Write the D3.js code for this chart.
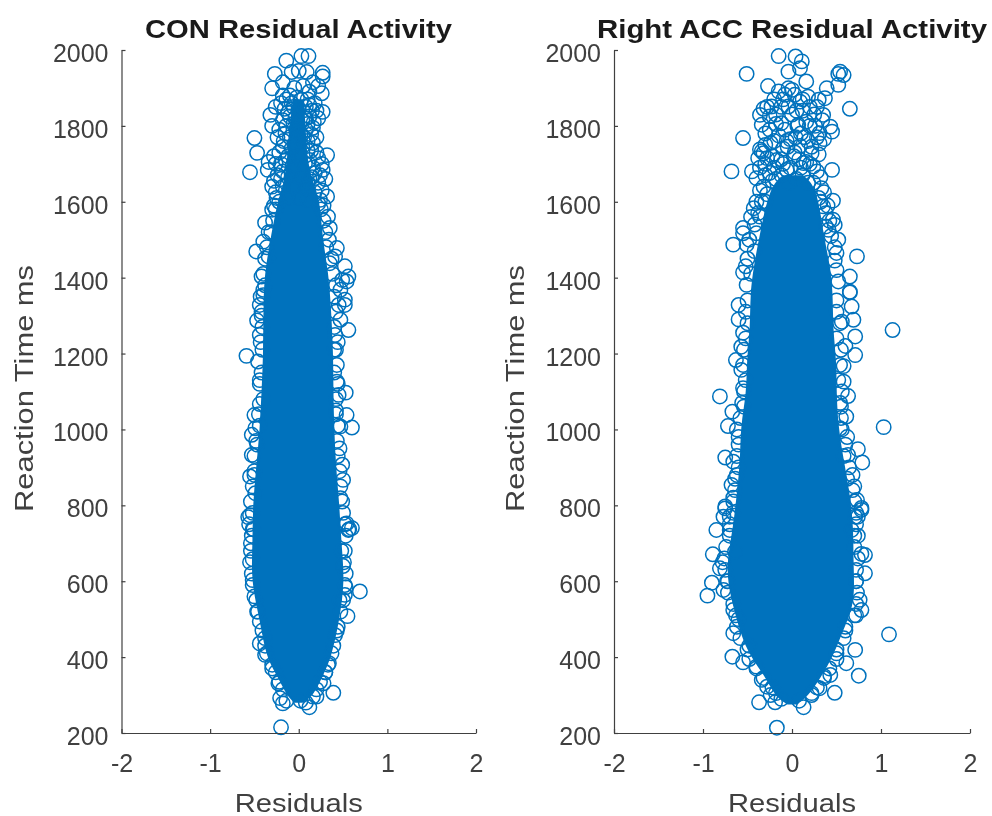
<!DOCTYPE html>
<html>
<head>
<meta charset="utf-8">
<script src="https://cdn.jsdelivr.net/npm/d3@7"></script>
<style>
  html, body { margin: 0; padding: 0; background: #fff; }
  text { font-family: "Liberation Sans", Arial, sans-serif; fill: #404040; }
  svg { filter: blur(0.45px); }
</style>
</head>
<body>
<div id="chart"></div>
<script>
// axis stuff, same for both panels
var xTicks = [-2, -1, 0, 1, 2];
var yTicks = [200, 400, 600, 800, 1000, 1200, 1400, 1600, 1800, 2000];
var xTickLabels = ['-2', '-1', '0', '1', '2'];
var yTickLabels = ['200', '400', '600', '800', '1000', '1200', '1400', '1600', '1800', '2000'];
var panelTitles = ['CON Residual Activity', 'Right ACC Residual Activity'];

// the middle of each cloud is solid blue, single circles can't be read there.
// these are the edges of the solid part: [reaction time, left residual, right residual]
var conCore = [
  [1870,-.06,.06],[1780,-.12,.08],[1700,-.13,.10],[1640,-.18,.18],[1600,-.24,.24],[1500,-.32,.27],
  [1420,-.38,.33],[1340,-.40,.36],[1200,-.40,.39],[1100,-.42,.39],[1000,-.44,.40],[900,-.48,.42],
  [800,-.52,.46],[700,-.52,.48],[600,-.54,.52],[500,-.44,.46],[400,-.37,.37],[350,-.24,.27],
  [300,-.14,.17],[280,-.05,.05]
];
var accCore = [
  [1670,-.10,.12],[1640,-.25,.28],[1517,-.36,.35],[1430,-.43,.43],[1360,-.47,.46],
  [1262,-.47,.46],[1183,-.51,.50],[1095,-.51,.50],[1008,-.58,.52],[920,-.58,.58],[832,-.62,.65],
  [744,-.66,.69],[656,-.73,.69],[594,-.72,.70],[533,-.66,.69],[463,-.58,.56],[401,-.47,.46],
  [349,-.30,.33],[296,-.19,.18],[275,-.05,.05]
];

// circles that can be made out one by one: [residual, reaction time]
var conPoints = [
  [-.14,1972],[.03,1984],[.11,1984],[.27,1940],[.27,1930],[-.27,1937],[-.30,1899],[0,1945],[-.08,1942],[.09,1942],
  [.26,1886],[-.32,1829],[.27,1837],[-.50,1768],[-.47,1729],[-.55,1678],[-.35,1684],[.32,1723],[.27,1684],[-.30,1800],
  [.22,1905],[-.18,1915],[-.05,1900],[.05,1905],[.12,1890],[-.10,1880],[-.02,1875],[.03,1870],[.18,1860],[-.20,1860],
  [.08,1850],[-.06,1850],[0,1845],[-.12,1835],[.22,1820],[.12,1825],[-.04,1820],[.04,1815],[-.22,1790],[-.14,1800],
  [.16,1795],[.08,1790],[-.03,1790],[.02,1780],[-.10,1770],[.20,1770],[.10,1760],[-.18,1745],[-.05,1750],[.04,1745],
  [.14,1735],[-.28,1720],[-.12,1720],[0,1720],[.22,1715],[-.34,1705],[-.20,1700],[-.07,1695],[.07,1700],[.16,1690],
  [.30,1660],[-.24,1670],[-.12,1665],[.02,1665],[.12,1660],[.22,1650],[-.30,1640],[-.18,1640],[-.05,1640],[.08,1635],
  [.18,1625],[-.25,1610],[-.12,1610],[0,1610],[.10,1605],[.24,1605],[-.18,1880],[.16,1915],[.20,1840],[-.26,1850],
  [-.38,1545],[-.30,1579],[-.48,1469],[-.40,1495],[-.34,1456],[.32,1614],[.33,1561],[.35,1531],[.43,1478],[.41,1456],
  [.35,1438],[.56,1403],[.52,1430],[.49,1394],[-.42,1403],[-.40,1368],[.47,1368],[.52,1342],[.34,1500],[-.34,1520],
  [-.44,1328],[.52,1328],[.45,1328],[-.47,1287],[.47,1289],[.56,1262],[-.44,1249],[.41,1249],[-.59,1194],[-.46,1179],
  [.43,1170],[.43,1126],[.53,1097],[.45,1091],[-.44,1067],[-.50,1038],[.54,1038],[-.53,986],[-.49,1003],[.60,1005],
  [.47,1008],[-.53,933],[.49,907],[-.55,876],[.50,867],[-.50,880],[-.49,832],[.47,819],[-.57,769],[-.51,737],
  [.60,740],[.56,735],[.54,1390],[-.40,1354],[-.42,1300],[.42,1210],[-.44,1130],[.42,1050],[-.47,960],[.46,950],
  [-.55,774],[-.52,737],[.57,737],[.54,752],[-.52,658],[-.52,603],[.69,573],[.53,584],[.52,564],[.55,508],
  [-.44,494],[-.44,436],[-.38,406],[.41,458],[.34,384],[.39,306],[.28,331],[.16,296],[.12,268],[-.18,278],
  [-.21,292],[-.20,215],[-.23,331],[.20,296],[.46,550],[-.50,560],[.48,680],[-.54,700],[.50,640],[-.47,520],
  [.44,480],[-.38,450],[-.30,370],[.30,360],[-.14,285],[.08,280],[.02,285]
];
// more rings packed into the top of the cloud and along the rough edge of the solid part
var conCrowd = [
  [-.14,1870],[.10,1870],[-.08,1860],[.12,1855],[-.16,1845],[.15,1840],[-.10,1825],[.08,1820],[-.18,1815],[.17,1810],
  [-.06,1805],[.10,1805],[-.15,1780],[.14,1778],[-.24,1770],[.06,1770],[-.17,1760],[.16,1755],[-.08,1740],[.10,1735],
  [-.22,1730],[.20,1730],[-.15,1710],[.12,1710],[-.26,1700],[.26,1700],[-.18,1680],[.18,1675],[-.28,1655],[.24,1670],
  [-.20,1660],[.10,1650],[-.26,1625],[.26,1630],[-.22,1600],[.22,1595],[.28,1590],[-.28,1590],[.15,1665],[-.08,1680],
  [-.26,1580],[.25,1580],[-.29,1550],[.28,1550],[-.31,1520],[.30,1520],[-.36,1480],[.31,1480],[-.38,1450],[.37,1450],
  [-.40,1410],[.38,1410],[-.38,1380],[.42,1380],[-.43,1350],[.40,1350],[-.42,1310],[.42,1310],[-.41,1270],[.40,1270],
  [-.43,1230],[.44,1230],[-.41,1210],[.40,1210],[-.42,1150],[.40,1150],[-.44,1120],[.44,1120],[-.40,1080],[.42,1080],
  [-.45,1040],[.42,1040],[-.44,1010],[.44,1010],[-.48,970],[.43,970],[-.50,930],[.44,930],[-.50,890],[.46,890],
  [-.52,850],[.47,850],[-.54,810],[.49,810],[-.52,780],[.50,780],[-.56,750],[.52,750],[-.53,720],[.53,720],
  [-.54,680],[.52,680],[-.55,650],[.51,650],[-.53,620],[.53,620],[-.52,590],[.52,590],[-.48,550],[.50,550],
  [-.46,520],[.47,520],[-.41,470],[.43,470],[-.38,430],[.39,430],[-.36,410],[.37,410],[-.30,380],[.33,380],
  [-.26,360],[.30,360],[-.22,335],[.24,335],[-.18,315],[.20,315]
];
var accPoints = [
  [-.15,1984],[.04,1983],[.11,1970],[-.51,1937],[.52,1937],[.58,1934],[.54,1943],[-.04,1943],[.09,1952],[-.27,1905],
  [.16,1917],[.52,1908],[.39,1899],[.65,1845],[-.15,1891],[-.04,1899],[0,1895],[-.08,1882],[.03,1882],[.18,1877],
  [.30,1869],[.37,1873],[-.23,1851],[-.04,1851],[.09,1864],[.20,1850],[-.36,1829],[-.34,1803],[.35,1829],[.43,1798],
  [.45,1785],[.31,1781],[-.25,1790],[-.25,1825],[-.12,1807],[.07,1803],[.16,1811],[-.55,1768],[-.34,1733],[-.32,1728],
  [-.36,1738],[.31,1754],[-.02,1765],[.09,1747],[.22,1728],[-.68,1680],[.45,1684],[-.45,1680],[-.40,1662],[-.17,1710],
  [.13,1702],[.24,1693],[-.06,1684],[-.25,1676],[.33,1636],[.46,1603],[-.43,1583],[.46,1553],[.48,1539],[-.55,1531],
  [-.55,1517],[.52,1500],[-.66,1487],[.73,1456],[.50,1465],[-.55,1414],[.65,1403],[.65,1361],[-.51,1381],[.50,1420],
  [-.36,1561],[-.51,1487],[-.40,1517],[.35,1588],[.41,1526],[-.30,1750],[-.20,1760],[-.10,1740],[.02,1720],[.18,1760],
  [.26,1800],[-.30,1700],[-.18,1660],[.05,1660],[.18,1650],[-.32,1640],[.30,1610],[-.34,1600],[.38,1570],[-.42,1540],
  [-.28,1850],[-.18,1830],[.12,1840],[.25,1830],[-.10,1870],[.28,1770],[-.08,1790],[.10,1780],[-.22,1720],[.20,1700],
  [-.60,1328],[-.55,1255],[-.57,1218],[-.63,1183],[-.57,1157],[-.55,1109],[-.81,1087],[-.67,1047],[-.72,1009],[-.75,926],
  [-.66,915],[-.68,854],[-.75,797],[-.70,770],[-.85,735],[-.60,1290],[-.54,1060],[-.60,980],[-.62,880],[-.66,820],
  [.65,1363],[.67,1324],[.69,1289],[.71,1245],[.56,1284],[1.13,1262],[.71,1196],[.58,1167],[.58,1126],[.63,1088],
  [.61,1034],[1.03,1006],[.54,1003],[.74,948],[.79,913],[.63,933],[.73,814],[.78,793],[.71,770],[.67,735],
  [.60,1220],[.55,1060],[.62,980],[.68,880],[.70,850],
  [-.89,671],[-.81,634],[-.90,596],[-.95,562],[-.77,577],[-.78,650],[-.64,678],[.82,669],[.82,621],[.78,672],
  [.78,788],[.74,770],[-.66,524],[-.66,463],[-.67,401],[-.55,386],[1.09,460],[.71,419],[.61,384],[.75,351],
  [.48,306],[-.37,281],[-.19,281],[.13,268],[-.17,214],[.31,318],[-.28,322],[.78,524],[.76,551],[.72,510],
  [.43,353],[-.40,375],[-.75,792],[-.77,770],[-.70,735],[-.72,600],[.72,600],[.70,720],[-.60,500],[.60,470],
  [-.48,430],[.50,410],[-.34,340],[.36,350],[-.12,290],[.08,285],[-.24,300],[.22,300]
];
var accCrowd = [
  [-.20,1870],[.12,1870],[-.12,1850],[.28,1850],[-.32,1845],[.05,1840],[.34,1815],[-.18,1805],[.20,1800],[-.30,1780],
  [-.15,1775],[.04,1770],[.14,1770],[.36,1765],[-.24,1755],[-.05,1745],[.22,1745],[.30,1725],[-.38,1715],[-.28,1715],
  [-.12,1712],[.08,1712],[.16,1705],[-.36,1690],[-.20,1690],[-.02,1690],[.28,1680],[-.30,1670],[-.12,1670],[.12,1670],
  [.32,1665],[-.22,1655],[-.04,1650],[.24,1650],[-.36,1630],[-.28,1620],[.36,1625],[.32,1600],[-.40,1600],[.40,1590],
  [-.30,1600],[-.46,1560],[.42,1550],[-.38,1570],[.38,1535],[-.48,1500],[.44,1510],[-.42,1470],[.48,1480],[-.50,1450],
  [.48,1445],[-.52,1430],[-.46,1410],[.52,1390],[0,1830],[-.06,1760],[.06,1800],[.03,1730],[-.10,1700],[.10,1690],
  [-.50,1340],[.50,1340],[-.52,1310],[.50,1310],[-.50,1280],[.54,1280],[-.52,1240],[.50,1240],[-.54,1210],[.55,1210],
  [-.55,1170],[.54,1170],[-.52,1130],[.52,1130],[-.54,1100],[.56,1100],[-.56,1070],[.54,1070],[-.58,1030],[.55,1030],
  [-.62,1000],[.56,1000],[-.60,960],[.60,960],[-.62,930],[.58,930],[-.60,900],[.64,900],[-.64,870],[.62,870],
  [-.64,840],[.68,840],[-.66,810],[.70,810],[-.66,780],[.72,780],[-.70,750],[.72,750],[-.70,720],[.74,720],
  [-.74,690],[.70,690],[-.76,660],[.74,660],[-.75,630],[.72,630],[-.73,600],[.72,600],[-.72,570],[.73,570],
  [-.66,540],[.72,540],[-.63,510],[.70,510],[-.62,480],[.60,480],[-.58,450],[.58,450],[-.50,420],[.50,420],
  [-.48,395],[.50,395],[-.40,370],[.42,370],[-.32,345],[.36,345],[-.22,320],[.28,320],[-.18,305],[.22,305]
];

var panelCores = [conCore, accCore];
var panelPoints = [conCrowd.concat(conPoints), accCrowd.concat(accPoints)];

var blue = '#0072bd';
var axisColor = '#404040';
var plotTop = 50, plotBottom = 733;
var panelLeft = [121.5, 614], panelRight = [476, 970];
// reference text is a bit wider than Liberation, so squeeze it to the measured widths
var titleCenter = [298.5, 792], titleWidth = [307, 390];
var yLabelX = [33, 524];

var svg = d3.select('#chart').append('svg').attr('width', 992).attr('height', 816);

function drawPanel(i) {
    var x = d3.scaleLinear().domain([-2, 2]).range([panelLeft[i], panelRight[i]]);
    var y = d3.scaleLinear().domain([200, 2000]).range([plotBottom, plotTop]);

    var core = d3.area()
        .y(function (d) { return y(d[0]); })
        .x0(function (d) { return x(d[1]); })
        .x1(function (d) { return x(d[2]); })
        .curve(d3.curveBasis);

    svg.append('path').datum(panelCores[i]).attr('d', core).attr('fill', blue);

    svg.append('g').selectAll('circle').data(panelPoints[i]).enter().append('circle')
        .attr('cx', function (d) { return x(d[0]); })
        .attr('cy', function (d) { return y(d[1]); })
        .attr('r', 7.2)
        .attr('fill', 'none')
        .attr('stroke', blue)
        .attr('stroke-width', 1.5);

    // ticks point inward and there is no box
    var xAxis = d3.axisBottom(x).tickValues(xTicks).tickSizeInner(-4).tickSizeOuter(0).tickPadding(21)
        .tickFormat(function (d, k) { return xTickLabels[k]; });
    var yAxis = d3.axisLeft(y).tickValues(yTicks).tickSizeInner(-4).tickSizeOuter(0).tickPadding(13)
        .tickFormat(function (d, k) { return yTickLabels[k]; });

    var gx = svg.append('g').attr('transform', 'translate(0,' + plotBottom + ')').call(xAxis);
    var gy = svg.append('g').attr('transform', 'translate(' + panelLeft[i] + ',0)').call(yAxis);
    [gx, gy].forEach(function (g) {
        g.selectAll('path, line').attr('stroke', axisColor).attr('stroke-width', 1.2);
        g.selectAll('text').attr('fill', axisColor).style('font-size', '25px')
            .style('font-family', '"Liberation Sans", Arial, sans-serif');
    });
    gy.selectAll('text').attr('dy', '0.46em');

    svg.append('text')
        .attr('x', titleCenter[i]).attr('y', 38)
        .attr('text-anchor', 'middle')
        .attr('textLength', titleWidth[i]).attr('lengthAdjust', 'spacingAndGlyphs')
        .style('font-size', '26px').style('font-weight', 'bold').style('fill', '#1a1a1a')
        .text(panelTitles[i]);

    svg.append('text')
        .attr('x', (panelLeft[i] + panelRight[i]) / 2).attr('y', 812)
        .attr('text-anchor', 'middle')
        .attr('textLength', 128).attr('lengthAdjust', 'spacingAndGlyphs')
        .style('font-size', '25px')
        .text('Residuals');

    svg.append('text')
        .attr('transform', 'translate(' + yLabelX[i] + ',' + ((plotTop + plotBottom) / 2 - 3) + ') rotate(-90)')
        .attr('text-anchor', 'middle')
        .attr('textLength', 247).attr('lengthAdjust', 'spacingAndGlyphs')
        .style('font-size', '25px')
        .text('Reaction Time ms');
}

drawPanel(0);
drawPanel(1);
</script>
</body>
</html>
